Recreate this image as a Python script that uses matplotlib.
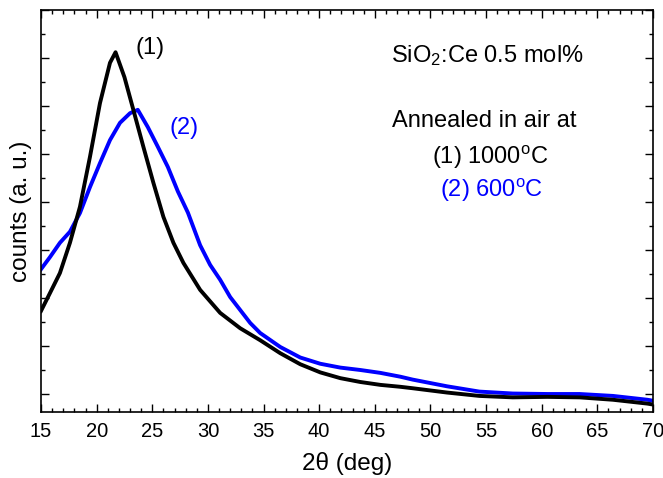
import matplotlib
matplotlib.use("Agg")
import matplotlib.pyplot as plt
from matplotlib.ticker import MultipleLocator, NullFormatter

plt.rcParams['font.family'] = ['Liberation Sans', 'DejaVu Sans']
plt.rcParams['mathtext.fontset'] = 'custom'
plt.rcParams['mathtext.rm'] = 'Liberation Sans'
plt.rcParams['mathtext.it'] = 'Liberation Sans:italic'

# sample (1): annealed at 1000 C (black)
x1 = [15, 15.8, 16.7, 17.6, 18.5, 19.4, 20.3, 21.2, 21.7, 22.5, 23.3, 24.2, 25.1,
      26.0, 26.9, 27.8, 29.3, 31.1, 32.9, 34.7, 36.5, 38.3, 40.1, 41.9, 43.7,
      45.5, 47.3, 48.4, 51.5, 54.4, 57.4, 60.5, 63.4, 66.4, 69.5, 70]
y1 = [1.73, 2.1, 2.52, 3.15, 3.9, 4.94, 6.06, 6.9, 7.12, 6.6, 5.92, 5.15, 4.4,
      3.69, 3.15, 2.73, 2.17, 1.69, 1.37, 1.12, 0.85, 0.62, 0.45, 0.33, 0.25,
      0.19, 0.15, 0.12, 0.03, -0.04, -0.07, -0.06, -0.07, -0.12, -0.2, -0.22]

# sample (2): annealed at 600 C (blue)
x2 = [15, 15.8, 16.7, 17.6, 18.5, 19.4, 20.3, 21.2, 22.1, 23.0, 23.7, 24.6, 25.5,
      26.4, 27.3, 28.2, 29.3, 30.2, 31.1, 32.0, 32.9, 33.8, 34.7, 36.5, 38.3,
      40.1, 41.9, 43.7, 45.5, 47.3, 48.4, 51.5, 54.4, 57.4, 60.5, 63.4, 66.4,
      69.5, 70]
y2 = [2.6, 2.85, 3.15, 3.38, 3.77, 4.31, 4.81, 5.29, 5.65, 5.85, 5.92, 5.56, 5.15,
      4.73, 4.22, 3.78, 3.1, 2.69, 2.38, 2.02, 1.75, 1.48, 1.27, 0.98, 0.76,
      0.63, 0.55, 0.50, 0.44, 0.36, 0.30, 0.16, 0.05, 0.01, 0.0, 0.0, -0.04,
      -0.12, -0.14]

xticks = [15, 20, 25, 30, 35, 40, 45, 50, 55, 60, 65, 70]

fig = plt.figure(figsize=(6.63, 4.78), dpi=100)
ax = fig.add_axes([41/663, 66/478, 612/663, 402/478])

ax.plot(x2, y2, color='#0000ff', lw=2.8)
ax.plot(x1, y1, color='black', lw=2.8)

ax.set_xlim(15, 70)
ax.set_ylim(-0.375, 8.0)
ax.set_xticks(xticks)
ax.xaxis.set_minor_locator(MultipleLocator(1))
ax.yaxis.set_major_locator(MultipleLocator(1))
ax.yaxis.set_minor_locator(MultipleLocator(0.5))
ax.yaxis.set_major_formatter(NullFormatter())
ax.tick_params(which='both', direction='in', top=True, right=True, width=1)
ax.tick_params(which='major', length=6, labelsize=14.5, pad=7)
ax.tick_params(which='minor', length=3)
for s in ax.spines.values():
    s.set_linewidth(1.2)

ax.set_xlabel('2θ (deg)', fontsize=17.5, labelpad=8)
ax.set_ylabel('counts (a. u.)', fontsize=17.5)
ax.yaxis.set_label_coords(-0.015, 0.5)

ax.text(24.8, 7.2, '(1)', fontsize=17, ha='center', va='center', color='black')
ax.text(27.9, 5.54, '(2)', fontsize=17, ha='center', va='center', color='#0000ff')

ax.text(55.1, 7.06, 'SiO$_2$:Ce 0.5 mol%', fontsize=17, ha='center', va='center')
ax.text(54.8, 5.69, 'Annealed in air at', fontsize=17, ha='center', va='center')
ax.text(55.35, 4.92, '(1) 1000$^\\mathrm{o}$C', fontsize=17, ha='center', va='center')
ax.text(55.5, 4.25, '(2) 600$^\\mathrm{o}$C', fontsize=17, ha='center', va='center',
        color='#0000ff')

fig.savefig('out.png', dpi=100)
